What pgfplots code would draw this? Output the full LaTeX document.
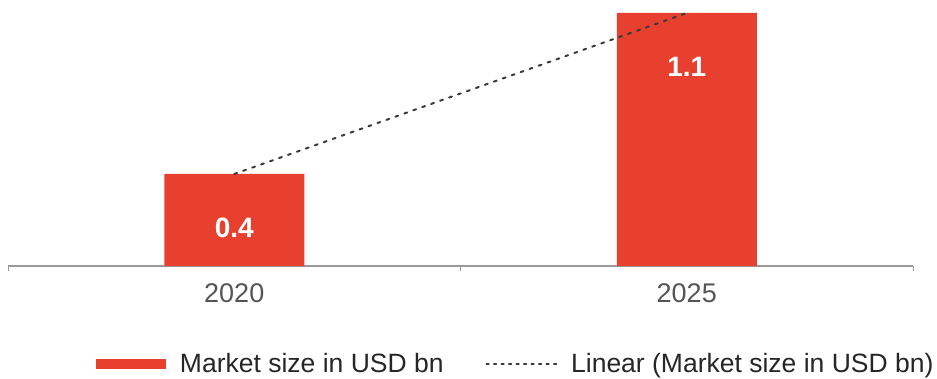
\documentclass[border=0pt]{standalone}
\usepackage{pgfplots}
\pgfplotsset{compat=1.18}
\usepackage{fontspec}
\setmainfont{Liberation Sans}
\definecolor{barred}{HTML}{E8402E}
\definecolor{axgray}{HTML}{9A9A9A}
\definecolor{ticktext}{HTML}{555555}
\definecolor{trend}{HTML}{3A3A3A}
\begin{document}
\begin{tikzpicture}
\useasboundingbox (-8bp,-113bp) rectangle (929bp,266bp);
\begin{axis}[
  at={(0,0)}, anchor=south west,
  scale only axis,
  width=905bp, height=266bp,
  xmin=-0.5, xmax=1.5,
  ymin=0, ymax=1.1565,
  axis x line*=bottom,
  axis y line=none,
  x axis line style={axgray, line width=1.5bp, -},
  xtick={0,1},
  xticklabels={2020,2025},
  major tick length=0pt,
  minor xtick={-0.5,0.5,1.5},
  minor tick length=5bp,
  tick align=outside,
  every minor tick/.style={axgray, line width=1bp},
  xticklabel style={font=\fontsize{27bp}{32bp}\selectfont, text=ticktext, yshift=-14bp},
  /pgf/number format/assume math mode=true,
  clip=false,
  legend columns=2,
  legend style={at={(0.561,-0.368)}, anchor=center, draw=none, fill=none,
    font=\fontsize{26.5bp}{31bp}\selectfont, text=black!85,
    /tikz/every even column/.append style={column sep=40bp},
    inner sep=0pt},
  legend cell align=left,
]
\addplot[ybar, bar width=140bp, fill=barred, draw=none,
  nodes near coords,
  every node near coord/.append style={anchor=center, yshift=-54bp, text=white,
    font=\bfseries\fontsize{28bp}{33bp}\selectfont},
  legend image code/.code={\fill[barred] (0bp,-5bp) rectangle (70bp,5bp);}
] coordinates {(0,0.4) (1,1.1)};
\addlegendentry{\hspace{12bp}Market size in USD bn}
\addplot[trend, line width=2bp, dash pattern=on 3bp off 6.5bp, line cap=round,
  legend image code/.code={\draw[trend, line width=1.6bp, dash pattern=on 2.5bp off 5bp] (0bp,0bp) -- (70bp,0bp);}
] coordinates {(0,0.4) (1,1.1)};
\addlegendentry{\hspace{12bp}Linear (Market size in USD bn)}
\end{axis}
\end{tikzpicture}
\end{document}
